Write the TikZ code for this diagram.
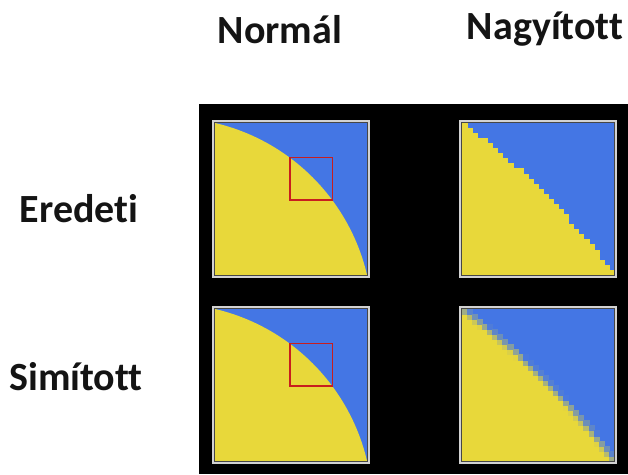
\documentclass[tikz,border=0pt]{standalone}
\usepackage{fontspec}
\setmainfont{Carlito}[Ligatures=NoCommon]
\definecolor{yel}{RGB}{232,216,58}
\definecolor{blu}{RGB}{68,118,228}
\definecolor{redsq}{RGB}{200,30,30}
\definecolor{darkline}{RGB}{70,70,70}
\definecolor{lightline}{RGB}{210,210,210}
\tikzset{
  lbl/.style={font=\bfseries\fontsize{40}{48}\selectfont, anchor=base, inner sep=0pt, text=black!92},
  innerframe/.style={draw=darkline, line width=1pt},
  outerframe/.style={draw=lightline, line width=1.5pt},
  zoombox/.style={draw=redsq, line width=1.5pt}
}
\begin{document}
\begin{tikzpicture}[x=1pt,y=-1pt]
\useasboundingbox (0,0) rectangle (628,474);
\fill[black] (199,104) rectangle (628,474);

\node[lbl] (normal) at (280,43) {Normál};
\node[lbl] (nagy) at (545,39) {Nagyított};
\node[lbl] (ered) at (79,222) {Eredeti};
\node[lbl] (simi) at (76,390) {Simított};

% normal panels
\foreach \py in {123,309} {
  \begin{scope}[shift={(215,\py+152)}, x=152pt, y=152pt]
    \fill[blu] (0,0) rectangle (1,1);
    \begin{scope}
      \clip (0,0) rectangle (1,1);
      \fill[yel] (-0.307,-0.307) circle[radius=1.3425];
    \end{scope}
    \draw[zoombox] (0.492,0.492) rectangle (0.772,0.772);
  \end{scope}
  \draw[innerframe] (214.5,\py-0.5) rectangle (367.5,\py+152.5);
  \draw[outerframe] (212.8,\py-2.2) rectangle (369.2,\py+154.2);
}

% zoomed panels
\foreach \py/\smooth in {123/0,309/1} {
  \begin{scope}[shift={(462,\py+152)}, x=152pt, y=152pt]
    \fill[blu] (0,0) rectangle (1,1);
    \foreach \i in {0,...,29} {
      \foreach \j in {0,...,29} {
        \pgfmathsetmacro\uu{0.492+(\i+0.5)*0.28/30}
        \pgfmathsetmacro\vv{0.492+(\j+0.5)*0.28/30}
        \pgfmathsetmacro\dd{1.3425-sqrt((\uu+0.307)^2+(\vv+0.307)^2)}
        \pgfmathsetmacro\cov{\smooth==1 ? min(1,max(0,0.5+75*\dd))*100 : (\dd>0 ? 100 : 0)}
        \ifdim\cov pt>0.5pt
          \fill[yel!\cov!blu, draw=yel!\cov!blu, line width=0.3pt] (\i/30,\j/30) rectangle ({(\i+1)/30},{(\j+1)/30});
        \fi
      }
    }
  \end{scope}
  \draw[innerframe] (461.5,\py-0.5) rectangle (614.5,\py+152.5);
  \draw[outerframe] (459.8,\py-2.2) rectangle (616.2,\py+154.2);
}
\end{tikzpicture}
\end{document}
